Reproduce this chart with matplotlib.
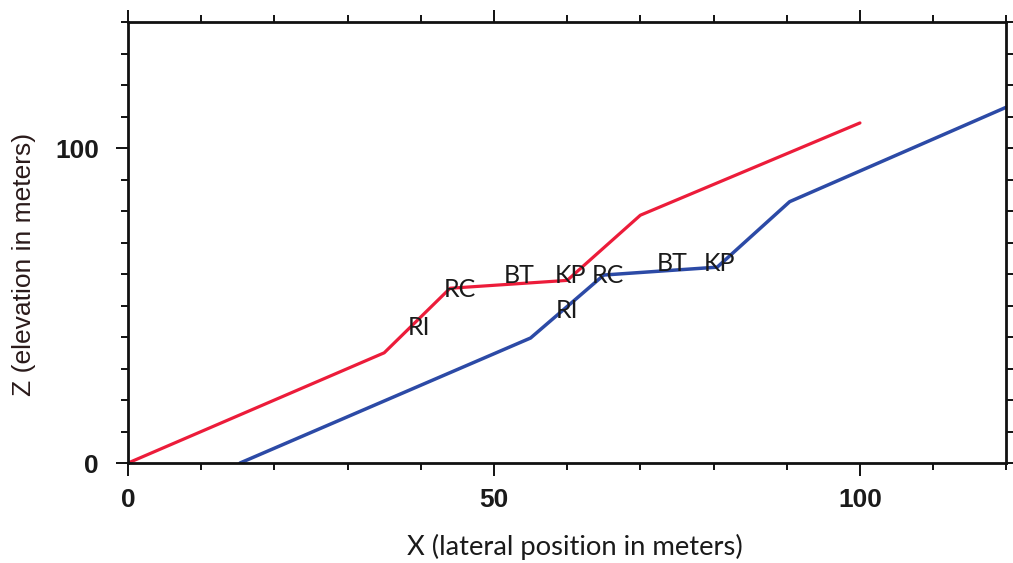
import matplotlib.pyplot as plt
from matplotlib.ticker import MultipleLocator

# red profile
red_x = [0, 35, 44, 60, 70, 100]
red_z = [0, 35, 55.5, 58, 78.7, 108]

# blue profile
blue_x = [15.3, 55, 65, 80.5, 90.4, 120]
blue_z = [0, 39.7, 59.7, 62.2, 83, 113]

# unit labels (text, x, z)
red_labels = [("RI", 39.7, 43), ("RC", 45.3, 55), ("BT", 53.5, 59.5), ("KP", 60.5, 59.5)]
blue_labels = [("RI", 60.0, 48.5), ("RC", 65.5, 59.5), ("BT", 74.3, 63.5), ("KP", 80.8, 63.5)]

fig = plt.figure(figsize=(10.13, 5.63), dpi=100)
ax = fig.add_axes([0.1264, 0.1776, 0.867, 0.783])

ax.plot(red_x, red_z, color='#ec1c3a', lw=2.3, solid_capstyle='round')
ax.plot(blue_x, blue_z, color='#2c4aa6', lw=2.5, solid_capstyle='round')

for txt, x, z in red_labels + blue_labels:
    ax.text(x, z, txt, fontsize=18, family='Lato', color='#1a1a1a',
            ha='center', va='center')

ax.set_xlim(0, 120)
ax.set_ylim(0, 140)

ax.xaxis.set_major_locator(MultipleLocator(50))
ax.xaxis.set_minor_locator(MultipleLocator(10))
ax.yaxis.set_major_locator(MultipleLocator(100))
ax.yaxis.set_minor_locator(MultipleLocator(10))
ax.tick_params(which='both', direction='out', top=True, right=True, width=1.4, color='#111111')
ax.tick_params(which='major', length=9)
ax.tick_params(which='minor', length=5)
ax.tick_params(which='major', labelsize=19)
ax.tick_params(axis='x', which='major', pad=9)
ax.tick_params(axis='y', which='major', pad=12)
for lab in ax.get_xticklabels() + ax.get_yticklabels():
    lab.set_family('Liberation Sans')
    lab.set_fontweight('bold')
    lab.set_color('#1a1a1a')

for s in ax.spines.values():
    s.set_linewidth(2)
    s.set_color('#111111')

ax.set_xlabel('X (lateral position in meters)', fontsize=19.7, family='Lato',
              labelpad=16, color='#1a1a1a')
ax.xaxis.label.set_x(0.509)
ax.set_ylabel('Z (elevation in meters)', fontsize=19, family='Liberation Sans',
              labelpad=14, color='#2a1a1a')
ax.yaxis.label.set_y(0.45)

fig.savefig('out.png', dpi=100)
